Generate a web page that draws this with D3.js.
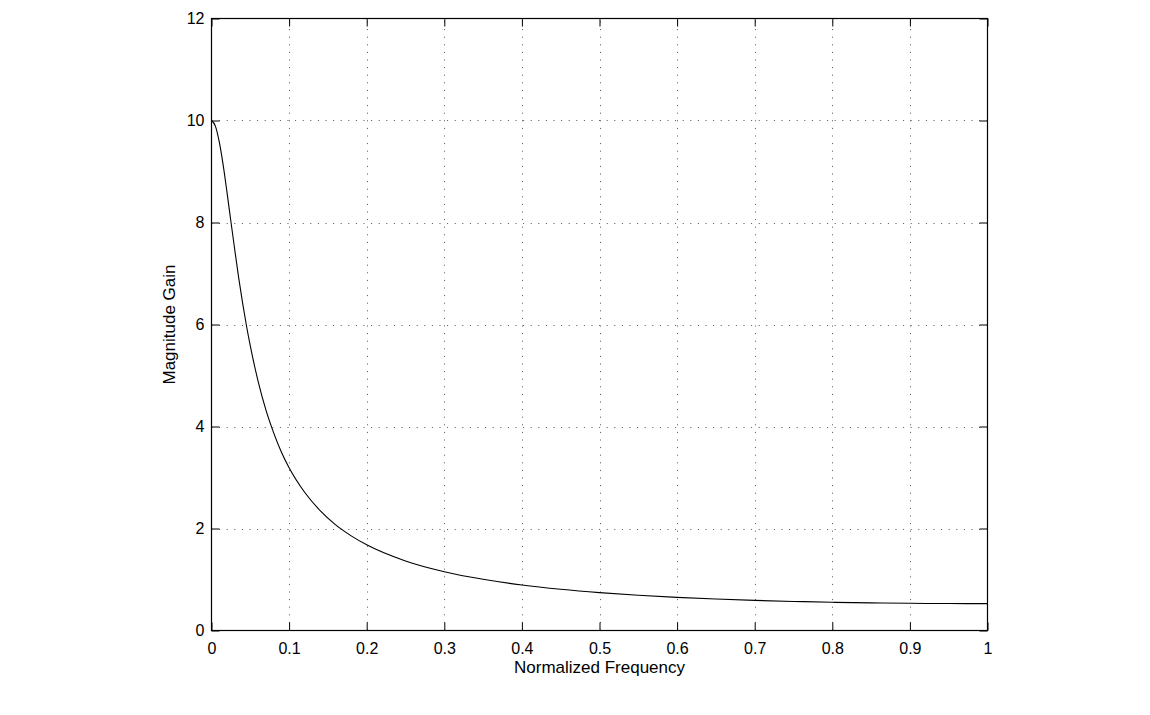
<!DOCTYPE html>
<html>
<head>
<meta charset="utf-8">
<script src="https://cdn.jsdelivr.net/npm/d3@7"></script>
<style>
html,body{margin:0;padding:0;background:#fff;}
text{font-family:"Liberation Sans",Arial,Helvetica,sans-serif;fill:#000;}
</style>
</head>
<body>
<svg id="chart" width="1150" height="715"></svg>
<script>
// Data
const freq = [0, 0.005, 0.01, 0.015, 0.02, 0.025, 0.03, 0.035, 0.04, 0.045, 0.05, 0.06, 0.07, 0.08, 0.09, 0.10,
  0.12, 0.14, 0.16, 0.18, 0.20, 0.25, 0.30, 0.35, 0.40, 0.45, 0.50, 0.55, 0.60, 0.65, 0.70, 0.75, 0.80, 0.85, 0.90, 0.95, 1.00];
const gain = [10, 9.89, 9.58, 9.13, 8.59, 8.02, 7.46, 6.92, 6.43, 5.98, 5.58, 4.89, 4.33, 3.88, 3.50, 3.19,
  2.71, 2.35, 2.07, 1.856, 1.681, 1.364, 1.153, 1.004, 0.893, 0.809, 0.743, 0.691, 0.650, 0.617, 0.590, 0.570, 0.553, 0.541, 0.533, 0.528, 0.526];
const xTicks = [0, 0.1, 0.2, 0.3, 0.4, 0.5, 0.6, 0.7, 0.8, 0.9, 1];
const yTicks = [0, 2, 4, 6, 8, 10, 12];
const xLabel = "Normalized Frequency";
const yLabel = "Magnitude Gain";

const svg = d3.select("#chart");
const L = 211.5, R = 987.5, T = 18.5, B = 630.5;
const x = d3.scaleLinear().domain([0, 1]).range([L, R]);
const y = d3.scaleLinear().domain([0, 12]).range([B, T]);
const tickLen = 8;

// grid
const grid = svg.append("g").attr("stroke", "#555").attr("stroke-width", 1).attr("stroke-dasharray", "1,6.6");
grid.selectAll("line.gx").data(xTicks.slice(1, -1)).join("line")
  .attr("x1", d => Math.round(x(d)) + 0.5).attr("x2", d => Math.round(x(d)) + 0.5)
  .attr("y1", B).attr("y2", T);
grid.selectAll("line.gy").data(yTicks.slice(1, -1)).join("line")
  .attr("y1", d => Math.round(y(d)) + 0.5).attr("y2", d => Math.round(y(d)) + 0.5)
  .attr("x1", L).attr("x2", R);

// curve
const line = d3.line().x((d, i) => x(freq[i])).y(d => y(d)).curve(d3.curveMonotoneX);
svg.append("path").datum(gain).attr("d", line)
  .attr("fill", "none").attr("stroke", "#000").attr("stroke-width", 1.1);

// axes (inside ticks on all sides)
const axB = d3.axisBottom(x).tickValues(xTicks).tickSize(-tickLen).tickPadding(12)
  .tickFormat(d => d === 0 ? "0" : (d === 1 ? "1" : d3.format(".1f")(d)));
const axT = d3.axisTop(x).tickValues(xTicks).tickSize(-tickLen).tickFormat("");
const axLft = d3.axisLeft(y).tickValues(yTicks).tickSize(-tickLen).tickPadding(7).tickFormat(d3.format("d"));
const axRgt = d3.axisRight(y).tickValues(yTicks).tickSize(-tickLen).tickFormat("");

function style(g) {
  g.selectAll(".domain").remove();
  g.selectAll("line").attr("stroke", "#000").attr("stroke-width", 1);
  g.selectAll("text").attr("font-size", "16px")
    .attr("font-family", "'Liberation Sans', Arial, Helvetica, sans-serif").attr("fill", "#000");
}
svg.append("g").attr("transform", `translate(0,${B})`).call(axB).call(style);
svg.append("g").attr("transform", `translate(0,${T})`).call(axT).call(style);
svg.append("g").attr("transform", `translate(${L},0)`).call(axLft).call(style);
svg.append("g").attr("transform", `translate(${R},0)`).call(axRgt).call(style);

// box
svg.append("rect").attr("x", L).attr("y", T).attr("width", R - L).attr("height", B - T)
  .attr("fill", "none").attr("stroke", "#000").attr("stroke-width", 1.2);

// labels
svg.append("text").attr("x", (L + R) / 2).attr("y", 673).attr("text-anchor", "middle")
  .attr("font-size", "17px").text(xLabel);
svg.append("text").attr("transform", `translate(175,${(T + B) / 2}) rotate(-90)`)
  .attr("text-anchor", "middle").attr("font-size", "17px").text(yLabel);
</script>
</body>
</html>
